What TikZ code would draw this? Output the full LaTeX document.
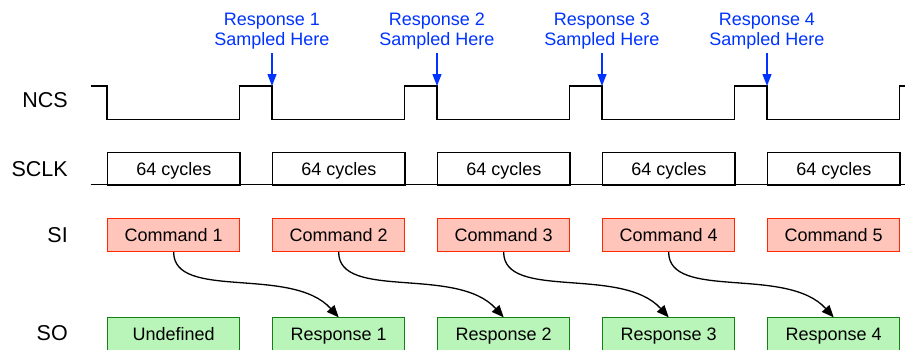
\documentclass[tikz,border=0pt]{standalone}
\usepackage{fontspec}
\setmainfont{Liberation Sans}
\usetikzlibrary{arrows.meta}
\definecolor{cmdfill}{RGB}{255,197,187}
\definecolor{cmdline}{RGB}{255,40,0}
\definecolor{rspfill}{RGB}{185,245,185}
\definecolor{rspline}{RGB}{20,128,20}
\definecolor{smpblue}{RGB}{0,51,255}
\begin{document}
\begin{tikzpicture}[x=1pt,y=-1pt,
  lbl/.style={anchor=east,inner sep=0pt,font=\fontsize{21.5pt}{24pt}\selectfont},
  wave/.style={line width=1.3pt,line join=miter},
  clkbox/.style={draw,line width=1.3pt,minimum width=132.3pt,minimum height=32.3pt,
    inner sep=0pt,text height=13pt,text depth=0pt,
    font=\fontsize{18pt}{20pt}\selectfont,anchor=north west},
  cmdbox/.style={clkbox,draw=cmdline,fill=cmdfill,line width=1pt,minimum height=32.7pt},
  rspbox/.style={clkbox,draw=rspline,fill=rspfill,line width=1pt,minimum height=33pt},
  smplbl/.style={anchor=south,inner xsep=0pt,inner ysep=3.7pt,align=center,
    text=smpblue,font=\fontsize{18pt}{20pt}\selectfont},
  smparrow/.style={draw=smpblue,line width=1.3pt,-{Triangle[length=12pt,width=9pt]}},
  flow/.style={line width=1.3pt,-{Triangle[length=12pt,width=10pt]}}
]
\useasboundingbox (0,0) rectangle (905,349);

% row labels
\node[lbl] (lncs) at (68,100) {NCS};
\node[lbl] (lsclk) at (68,169) {SCLK};
\node[lbl] (lsi) at (68,235) {SI};
\node[lbl] (lso) at (68,333) {SO};

% NCS waveform
\coordinate (p1) at (272,86);
\coordinate (p2) at (437,86);
\coordinate (p3) at (602,86);
\coordinate (p4) at (767,86);
\draw[wave] (90.7,86) -- (107,86) -- (107,119.3) -- (239.3,119.3) -- (239.3,86)
  -- (p1) -- (272,119.3) -- (404.3,119.3) -- (404.3,86)
  -- (p2) -- (437,119.3) -- (569.3,119.3) -- (569.3,86)
  -- (p3) -- (602,119.3) -- (734.3,119.3) -- (734.3,86)
  -- (p4) -- (767,119.3) -- (899.3,119.3) -- (899.3,86) -- (910,86);

% SCLK
\draw[wave] (90.7,184.3) -- (910,184.3);
\node[clkbox] (k1) at (107,152) {64 cycles};
\node[clkbox] (k2) at (272,152) {64 cycles};
\node[clkbox] (k3) at (437,152) {64 cycles};
\node[clkbox] (k4) at (602,152) {64 cycles};
\node[clkbox] (k5) at (767,152) {64 cycles};

% SI
\node[cmdbox] (c1) at (107,218.3) {Command 1};
\node[cmdbox] (c2) at (272,218.3) {Command 2};
\node[cmdbox] (c3) at (437,218.3) {Command 3};
\node[cmdbox] (c4) at (602,218.3) {Command 4};
\node[cmdbox] (c5) at (767,218.3) {Command 5};

% SO
\node[rspbox] (r1) at (107,317.3) {Undefined};
\node[rspbox] (r2) at (272,317.3) {Response 1};
\node[rspbox] (r3) at (437,317.3) {Response 2};
\node[rspbox] (r4) at (602,317.3) {Response 3};
\node[rspbox] (r5) at (767,317.3) {Response 4};

% sample labels
\node[smplbl] (s1) at (272,53) {Response 1\\Sampled Here};
\node[smplbl] (s2) at (437,53) {Response 2\\Sampled Here};
\node[smplbl] (s3) at (602,53) {Response 3\\Sampled Here};
\node[smplbl] (s4) at (767,53) {Response 4\\Sampled Here};
\draw[smparrow] (s1.south) -- (p1);
\draw[smparrow] (s2.south) -- (p2);
\draw[smparrow] (s3.south) -- (p3);
\draw[smparrow] (s4.south) -- (p4);

% command -> response
\draw[flow] (c1.south) .. controls +(0,49) and +(-47,-52) .. (r2.north);
\draw[flow] (c2.south) .. controls +(0,49) and +(-47,-52) .. (r3.north);
\draw[flow] (c3.south) .. controls +(0,49) and +(-47,-52) .. (r4.north);
\draw[flow] (c4.south) .. controls +(0,49) and +(-47,-52) .. (r5.north);
\end{tikzpicture}
\end{document}
